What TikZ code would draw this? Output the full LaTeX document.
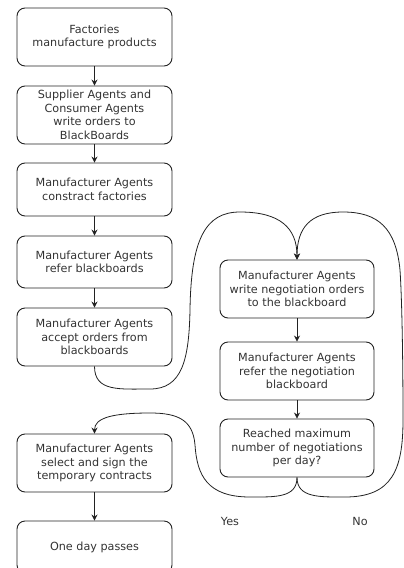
\documentclass[tikz,border=0pt]{standalone}
\usepackage{fontspec}
\setmainfont{DejaVu Sans}
\usetikzlibrary{arrows.meta}
\definecolor{ink}{HTML}{222222}
\definecolor{txt}{HTML}{333333}
\begin{document}
\begin{tikzpicture}[x=1pt,y=-1pt,
  box/.style={draw=ink,line width=0.9pt,rounded corners=8pt,minimum width=155pt,
    align=center,inner sep=2pt,text=txt,font=\fontsize{11.2}{13.5}\selectfont},
  conn/.style={draw=ink,line width=0.8pt,-{Stealth[length=6pt,width=6pt]}},
  lab/.style={text=txt,font=\fontsize{11.2}{13.5}\selectfont,inner sep=0pt}]
\useasboundingbox (0,0) rectangle (404,568);
\node[box,minimum height=58pt] (b1) at (94.5,37) {Factories\\manufacture products};
\node[box,minimum height=58pt] (b2) at (94.5,115) {Supplier Agents and\\Consumer Agents\\write orders to\\BlackBoards};
\node[box,minimum height=53pt] (b3) at (94.5,189.5) {Manufacturer Agents\\constract factories};
\node[box,minimum height=52pt] (b4) at (94.5,262) {Manufacturer Agents\\refer blackboards};
\node[box,minimum height=58pt] (b5) at (94.5,337) {Manufacturer Agents\\accept orders from\\blackboards};
\node[box,minimum height=58pt] (b6) at (94.5,463) {Manufacturer Agents\\select and sign the\\temporary contracts};
\node[box,minimum height=52pt] (b7) at (94.5,547) {One day passes};
\node[box,minimum height=58pt,minimum width=154pt] (r1) at (297,289) {Manufacturer Agents\\write negotiation orders\\to the blackboard};
\node[box,minimum height=58pt,minimum width=154pt] (r2) at (297,371) {Manufacturer Agents\\refer the negotiation\\blackboard};
\node[box,minimum height=58pt,minimum width=154pt] (r3) at (297,448) {Reached maximum\\number of negotiations\\per day?};
\node[lab] (yes) at (230,521) {Yes};
\node[lab] (no) at (360,521) {No};
\draw[conn] (b1) -- (b2);
\draw[conn] (b2) -- (b3);
\draw[conn] (b3) -- (b4);
\draw[conn] (b4) -- (b5);
\draw[conn] (b6) -- (b7);
\draw[conn] (r1) -- (r2);
\draw[conn] (r2) -- (r3);
\draw[conn] (b5.south) .. controls (94.5,392) and (120,389) .. (150,389)
  .. controls (182,389) and (189,360) .. (190,310)
  .. controls (191,240) and (205,212) .. (240,212)
  .. controls (280,212) and (297,228) .. (r1.north);
\draw[conn] (r3.south) .. controls (297,498) and (320,497) .. (345,497)
  .. controls (392,497) and (403,470) .. (403,420)
  .. controls (403,360) and (402,300) .. (400,270)
  .. controls (396,228) and (378,212) .. (343,212)
  .. controls (310,212) and (297,228) .. (r1.north);
\draw[conn] (r3.south) .. controls (297,498) and (275,497) .. (250,497)
  .. controls (207,497) and (197,475) .. (195,445)
  .. controls (193,420) and (178,413) .. (150,413)
  .. controls (112,413) and (94.5,418) .. (b6.north);
\end{tikzpicture}
\end{document}
